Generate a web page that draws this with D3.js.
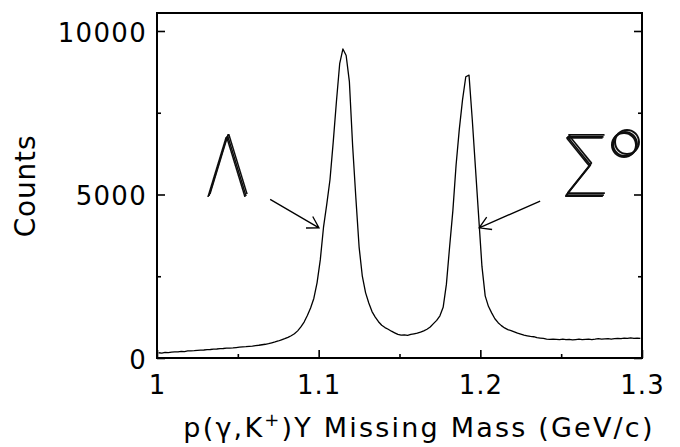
<!DOCTYPE html>
<html>
<head>
<meta charset="utf-8">
<script src="https://cdn.jsdelivr.net/npm/d3@7"></script>
<style>
  html, body { margin: 0; padding: 0; background: #fff; }
  svg { display: block; }
</style>
</head>
<body>
<svg id="chart" width="680" height="447"></svg>
<script>
// ---------- data ----------
const binStart = 1.000;   // GeV/c, lower edge of first bin
const binWidth = 0.002;   // GeV/c
const counts = [
  160,150,170,165,180,185,190,200,195,215,
  220,225,235,240,245,255,260,270,275,285,
  290,300,305,310,320,330,340,345,355,365,
  380,390,405,420,440,465,490,520,555,590,
  630,680,740,830,950,1100,1300,1530,1820,2300,
  3000,4000,4700,5450,6600,7850,9000,9450,9250,8450,
  6500,4900,3400,2500,2000,1680,1420,1250,1110,1000,
  930,880,820,770,720,700,710,690,720,740,
  760,790,830,880,950,1050,1150,1290,1550,2250,
  3400,4500,5900,7000,7900,8600,8650,7300,5800,4300,
  2800,1900,1580,1380,1200,1080,990,920,870,840,
  800,760,730,700,680,660,650,620,610,600,
  580,570,580,570,560,575,560,570,555,565,
  575,560,570,580,565,575,590,575,585,595,
  580,590,600,590,605,600,615,600,610,600
];
const xMajorTicks = [1.0, 1.1, 1.2, 1.3];
const xMinorTicks = [1.05, 1.15, 1.25];
const yMajorTicks = [0, 5000, 10000];
const yMinorTicks = [2500, 7500];
const xTickLabels = ["1", "1.1", "1.2", "1.3"];
const yTickLabels = ["0", "5000", "10000"];
const xDomain = [1.0, 1.3];
const yDomain = [0, 10550];
const arrows = [
  { label: "Lambda", from: [1.0700, 4850], to: [1.1002, 3980] },
  { label: "Sigma0", from: [1.2370, 4800], to: [1.1993, 3980] }
];

// ---------- layout ----------
const svg = d3.select("#chart");
const M = { left: 157, right: 642, top: 13, bottom: 358 };
const x = d3.scaleLinear().domain(xDomain).range([M.left, M.right]);
const y = d3.scaleLinear().domain(yDomain).range([M.bottom, M.top]);

// offset-copies filter for the multi-stroke Greek labels
const defs = svg.append("defs");
const f = defs.append("filter").attr("id", "multi")
  .attr("x", "-20%").attr("y", "-30%").attr("width", "160%").attr("height", "160%");
[[1.3, -1.4, "o1"], [2.6, -2.8, "o2"]].forEach(([dx, dy, r]) =>
  f.append("feOffset").attr("in", "SourceGraphic").attr("dx", dx).attr("dy", dy).attr("result", r));
const fm = f.append("feMerge");
["SourceGraphic", "o1", "o2"].forEach(n => fm.append("feMergeNode").attr("in", n));

const pts = counts.map((c, i) => [binStart + (i + 0.5) * binWidth, c]);

// histogram curve
svg.append("path")
  .datum(pts)
  .attr("fill", "none")
  .attr("stroke", "#000")
  .attr("stroke-width", 1.3)
  .attr("stroke-linejoin", "round")
  .attr("d", d3.line().x(d => x(d[0])).y(d => y(d[1])));

// axes
function styleAxis(g) {
  g.select(".domain").remove();
  g.selectAll(".tick line").attr("stroke", "#000").attr("stroke-width", 1.6);
}
const fontTick = 26;

// bottom
svg.append("g").attr("transform", `translate(0,${M.bottom})`)
  .call(d3.axisBottom(x).tickValues(xMajorTicks).tickSize(-8)
        .tickFormat((d, i) => xTickLabels[i]))
  .call(styleAxis)
  .call(g => g.selectAll(".tick text")
      .attr("y", 36).attr("dy", null)
      .attr("font-size", fontTick).attr("fill", "#000")
      .attr("letter-spacing", 1)
      .attr("font-family", "DejaVu Sans, sans-serif"));
svg.append("g").attr("transform", `translate(0,${M.bottom})`)
  .call(d3.axisBottom(x).tickValues(xMinorTicks).tickSize(-4).tickFormat(""))
  .call(styleAxis);

// left
svg.append("g").attr("transform", `translate(${M.left},0)`)
  .call(d3.axisLeft(y).tickValues(yMajorTicks).tickSize(-8).tickPadding(10)
        .tickFormat((d, i) => yTickLabels[i]))
  .call(styleAxis)
  .call(g => g.selectAll(".tick text")
      .attr("dy", "0.40em")
      .attr("font-size", fontTick).attr("fill", "#000")
      .attr("letter-spacing", 1.3)
      .attr("font-family", "DejaVu Sans, sans-serif"));
svg.append("g").attr("transform", `translate(${M.left},0)`)
  .call(d3.axisLeft(y).tickValues(yMinorTicks).tickSize(-4).tickFormat(""))
  .call(styleAxis);

// right
svg.append("g").attr("transform", `translate(${M.right},0)`)
  .call(d3.axisRight(y).tickValues(yMajorTicks).tickSize(-8).tickFormat(""))
  .call(styleAxis);
svg.append("g").attr("transform", `translate(${M.right},0)`)
  .call(d3.axisRight(y).tickValues(yMinorTicks).tickSize(-4).tickFormat(""))
  .call(styleAxis);

// frame
svg.append("rect")
  .attr("x", M.left).attr("y", M.top)
  .attr("width", M.right - M.left).attr("height", M.bottom - M.top)
  .attr("fill", "none").attr("stroke", "#000").attr("stroke-width", 2);

// axis titles
const xt = svg.append("text")
  .attr("x", 419).attr("y", 437)
  .attr("text-anchor", "middle")
  .attr("font-family", "DejaVu Sans, sans-serif")
  .attr("letter-spacing", 2.2)
  .attr("font-size", 27).attr("fill", "#000");
xt.append("tspan").text("p(γ,K");
xt.append("tspan").attr("font-size", 18).attr("dy", -11).text("+");
xt.append("tspan").attr("dy", 11).text(")Y Missing Mass (GeV/c)");

svg.append("text")
  .attr("transform", "translate(35,186) rotate(-90)")
  .attr("text-anchor", "middle")
  .attr("font-family", "DejaVu Sans, sans-serif")
  .attr("letter-spacing", 0.8)
  .attr("font-size", 28).attr("fill", "#000")
  .text("Counts");

// arrows
arrows.forEach(a => {
  const x0 = x(a.from[0]), y0 = y(a.from[1]);
  const x1 = x(a.to[0]), y1 = y(a.to[1]);
  const ang = Math.atan2(y1 - y0, x1 - x0);
  const L = 13, h = 31 * Math.PI / 180;
  const w1 = [x1 - L * Math.cos(ang - h), y1 - L * Math.sin(ang - h)];
  const w2 = [x1 - L * Math.cos(ang + h), y1 - L * Math.sin(ang + h)];
  svg.append("path")
    .attr("d", `M${x0},${y0}L${x1},${y1}M${w1[0]},${w1[1]}L${x1},${y1}L${w2[0]},${w2[1]}`)
    .attr("fill", "none").attr("stroke", "#000").attr("stroke-width", 1.3);
});

// Greek labels with the multi-stroke look
const greekFont = "Inter, 'Open Sans', Roboto, sans-serif";
function greek(txt, tx, ty, sx, size) {
  svg.append("text")
    .attr("transform", `translate(${tx},${ty}) scale(${sx},1)`)
    .attr("font-family", greekFont)
    .attr("font-weight", 100).attr("font-size", size)
    .attr("fill", "#111").attr("filter", "url(#multi)")
    .text(txt);
}
greek("Λ", 205, 197, 0.82, 82);
greek("Σ", 560, 197, 0.86, 82);
greek("°", 604, 197, 1.0, 88);
</script>
</body>
</html>
